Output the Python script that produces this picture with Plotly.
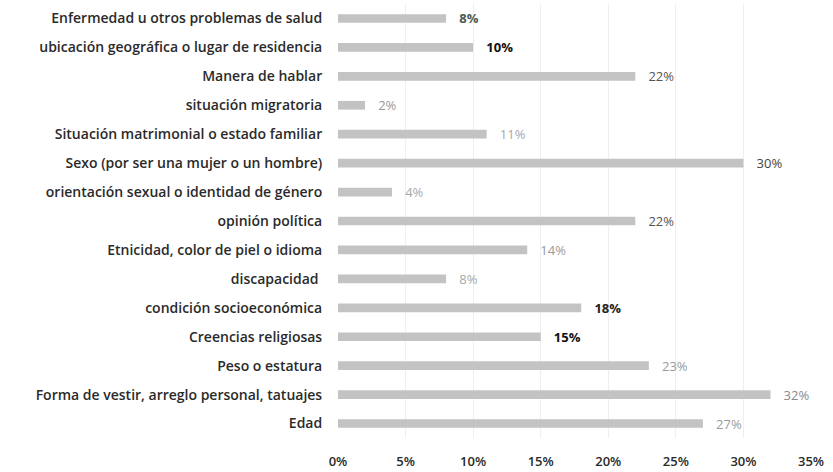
import plotly.graph_objects as go

categories = [
    "Enfermedad u otros problemas de salud",
    "ubicación geográfica o lugar de residencia",
    "Manera de hablar",
    "situación migratoria",
    "Situación matrimonial o estado familiar",
    "Sexo (por ser una mujer o un hombre)",
    "orientación sexual o identidad de género",
    "opinión política",
    "Etnicidad, color de piel o idioma",
    "discapacidad ",
    "condición socioeconómica",
    "Creencias religiosas",
    "Peso o estatura",
    "Forma de vestir, arreglo personal, tatuajes",
    "Edad",
]
values = [8, 10, 22, 2, 11, 30, 4, 22, 14, 8, 18, 15, 23, 32, 27]
tick_vals = [0, 5, 10, 15, 20, 25, 30, 35]
tick_text = ["0%", "5%", "10%", "15%", "20%", "25%", "30%", "35%"]

# label styling (scan appearance)
label_colors = ["#4d5a52", "#111111", "#555555", "#9a9a9a", "#a8a8a8", "#444444",
                "#a8a8a8", "#555555", "#9a9a9a", "#a8a8a8", "#222222", "#111111",
                "#9a9a9a", "#8a8a8a", "#9a9a9a"]
label_bold = [True, True, False, False, False, False, False, False, False, False,
              True, True, False, False, False]

FONT = "Open Sans, sans-serif"

texts = []
for v, b in zip(values, label_bold):
    t = f"{v}%"
    if b:
        t = f"<b>{t}</b>"
    texts.append("\u00a0\u00a0\u00a0" + t)

fig = go.Figure(go.Bar(
    x=values,
    y=categories,
    orientation="h",
    marker=dict(color="#c3c3c3", line=dict(width=0)),
    text=texts,
    textposition="outside",
    constraintext="none",
    cliponaxis=False,
    textfont=dict(family=FONT, size=13, color=label_colors),
    hoverinfo="skip",
))

fig.update_layout(
    width=833, height=472,
    margin=dict(l=338, r=22, t=4, b=34, autoexpand=False),
    paper_bgcolor="white",
    plot_bgcolor="white",
    bargap=0.7,
    showlegend=False,
    font=dict(family=FONT, size=13, color="#2a2a2a"),
)
fig.update_yaxes(
    autorange="reversed",
    automargin=False,
    showgrid=False,
    showline=False,
    ticks="outside",
    ticklen=12,
    tickcolor="rgba(0,0,0,0)",
    tickfont=dict(family=FONT, size=14, color="#2a2a2a", weight=600),
)
fig.update_xaxes(
    range=[0, 35],
    automargin=False,
    tickvals=tick_vals,
    ticktext=tick_text,
    showgrid=True,
    gridcolor="#efefef",
    zeroline=False,
    showline=False,
    ticks="",
    ticklabelstandoff=14,
    tickfont=dict(family=FONT, size=13, color="#2a2a2a", weight=600),
)

fig.write_html("out.html", config={"displayModeBar": False},
               post_script="document.body.style.margin='0px';")
